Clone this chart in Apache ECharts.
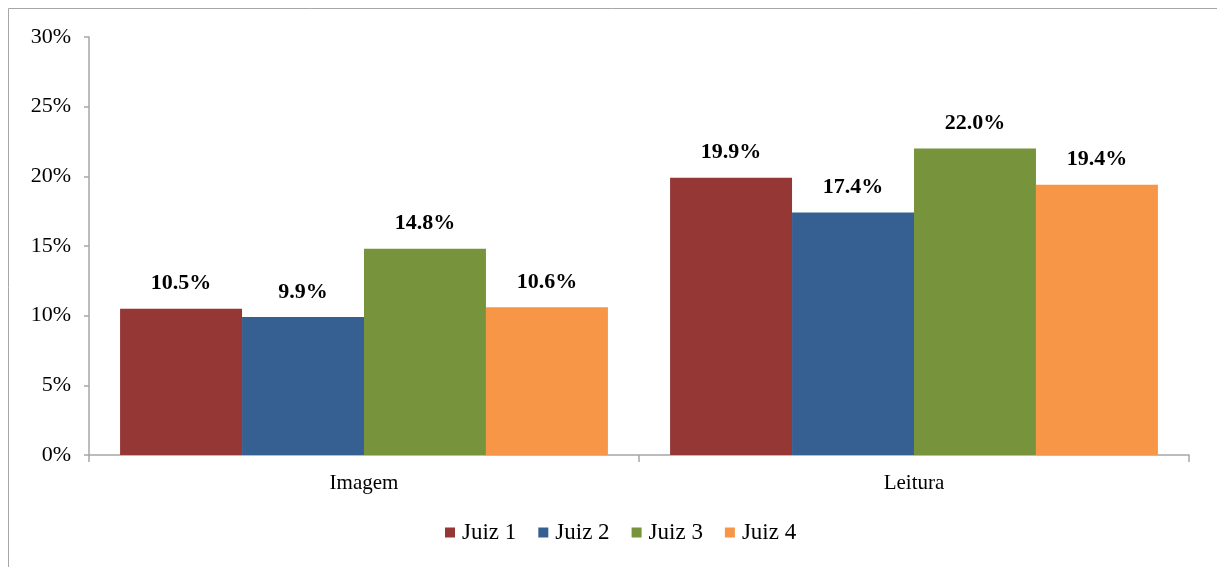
<!DOCTYPE html>
<html><head><meta charset="utf-8">
<script src="https://cdn.jsdelivr.net/npm/echarts@6/dist/echarts.min.js"></script>
<style>html,body{margin:0;padding:0;background:#fff}#c{width:1217px;height:567px}</style>
</head><body><div id="c"></div>
<script>
const categories = ['Imagem', 'Leitura'];
const seriesNames = ['Juiz 1', 'Juiz 2', 'Juiz 3', 'Juiz 4'];
const juiz1 = [10.5, 19.9];
const juiz2 = [9.9, 17.4];
const juiz3 = [14.8, 22.0];
const juiz4 = [10.6, 19.4];
const colors = ['#953735', '#376092', '#77933C', '#F79646'];
const yTicks = [0, 5, 10, 15, 20, 25, 30];

const values = [juiz1, juiz2, juiz3, juiz4];
const font = '"Liberation Serif", "Times New Roman", serif';
const chart = echarts.init(document.getElementById('c'));
chart.setOption({
  animation: false,
  textStyle: { fontFamily: font },
  graphic: [{
    type: 'polyline', shape: { points: [[8.5, 567], [8.5, 8.5], [1217, 8.5]] },
    style: { stroke: '#A6A6A6', lineWidth: 1, fill: null }
  }],
  legend: {
    bottom: 18, left: 440, itemWidth: 10, itemHeight: 10, itemGap: 22,
    icon: 'rect',
    textStyle: { fontFamily: font, fontSize: 23, color: '#000', padding: [0, 0, 0, 2] },
    data: seriesNames
  },
  grid: { left: 89, right: 28, top: 37, bottom: 112 },
  xAxis: {
    type: 'category', data: categories,
    axisLine: { lineStyle: { color: '#A6A6A6', width: 1.5 } },
    axisTick: { show: true, length: 7, lineStyle: { color: '#A6A6A6', width: 1.5 } },
    axisLabel: { fontFamily: font, fontSize: 21, color: '#000', margin: 18 }
  },
  yAxis: {
    type: 'value', min: 0, max: 30, interval: 5,
    splitLine: { show: false },
    axisLine: { show: true, lineStyle: { color: '#A6A6A6', width: 1.5 } },
    axisTick: { show: true, length: 5, lineStyle: { color: '#A6A6A6', width: 1.5 } },
    axisLabel: { fontFamily: font, fontSize: 22, color: '#000', margin: 18, formatter: v => v + '%' }
  },
  series: seriesNames.map((n, i) => ({
    name: n, type: 'bar', data: values[i],
    barGap: '0%', barCategoryGap: '11.3%',
    itemStyle: { color: colors[i] },
    label: {
      show: true, position: 'top', distance: 14,
      fontFamily: font, fontSize: 22, fontWeight: 'bold', color: '#000',
      formatter: p => p.value.toFixed(1) + '%'
    }
  }))
});
</script></body></html>
